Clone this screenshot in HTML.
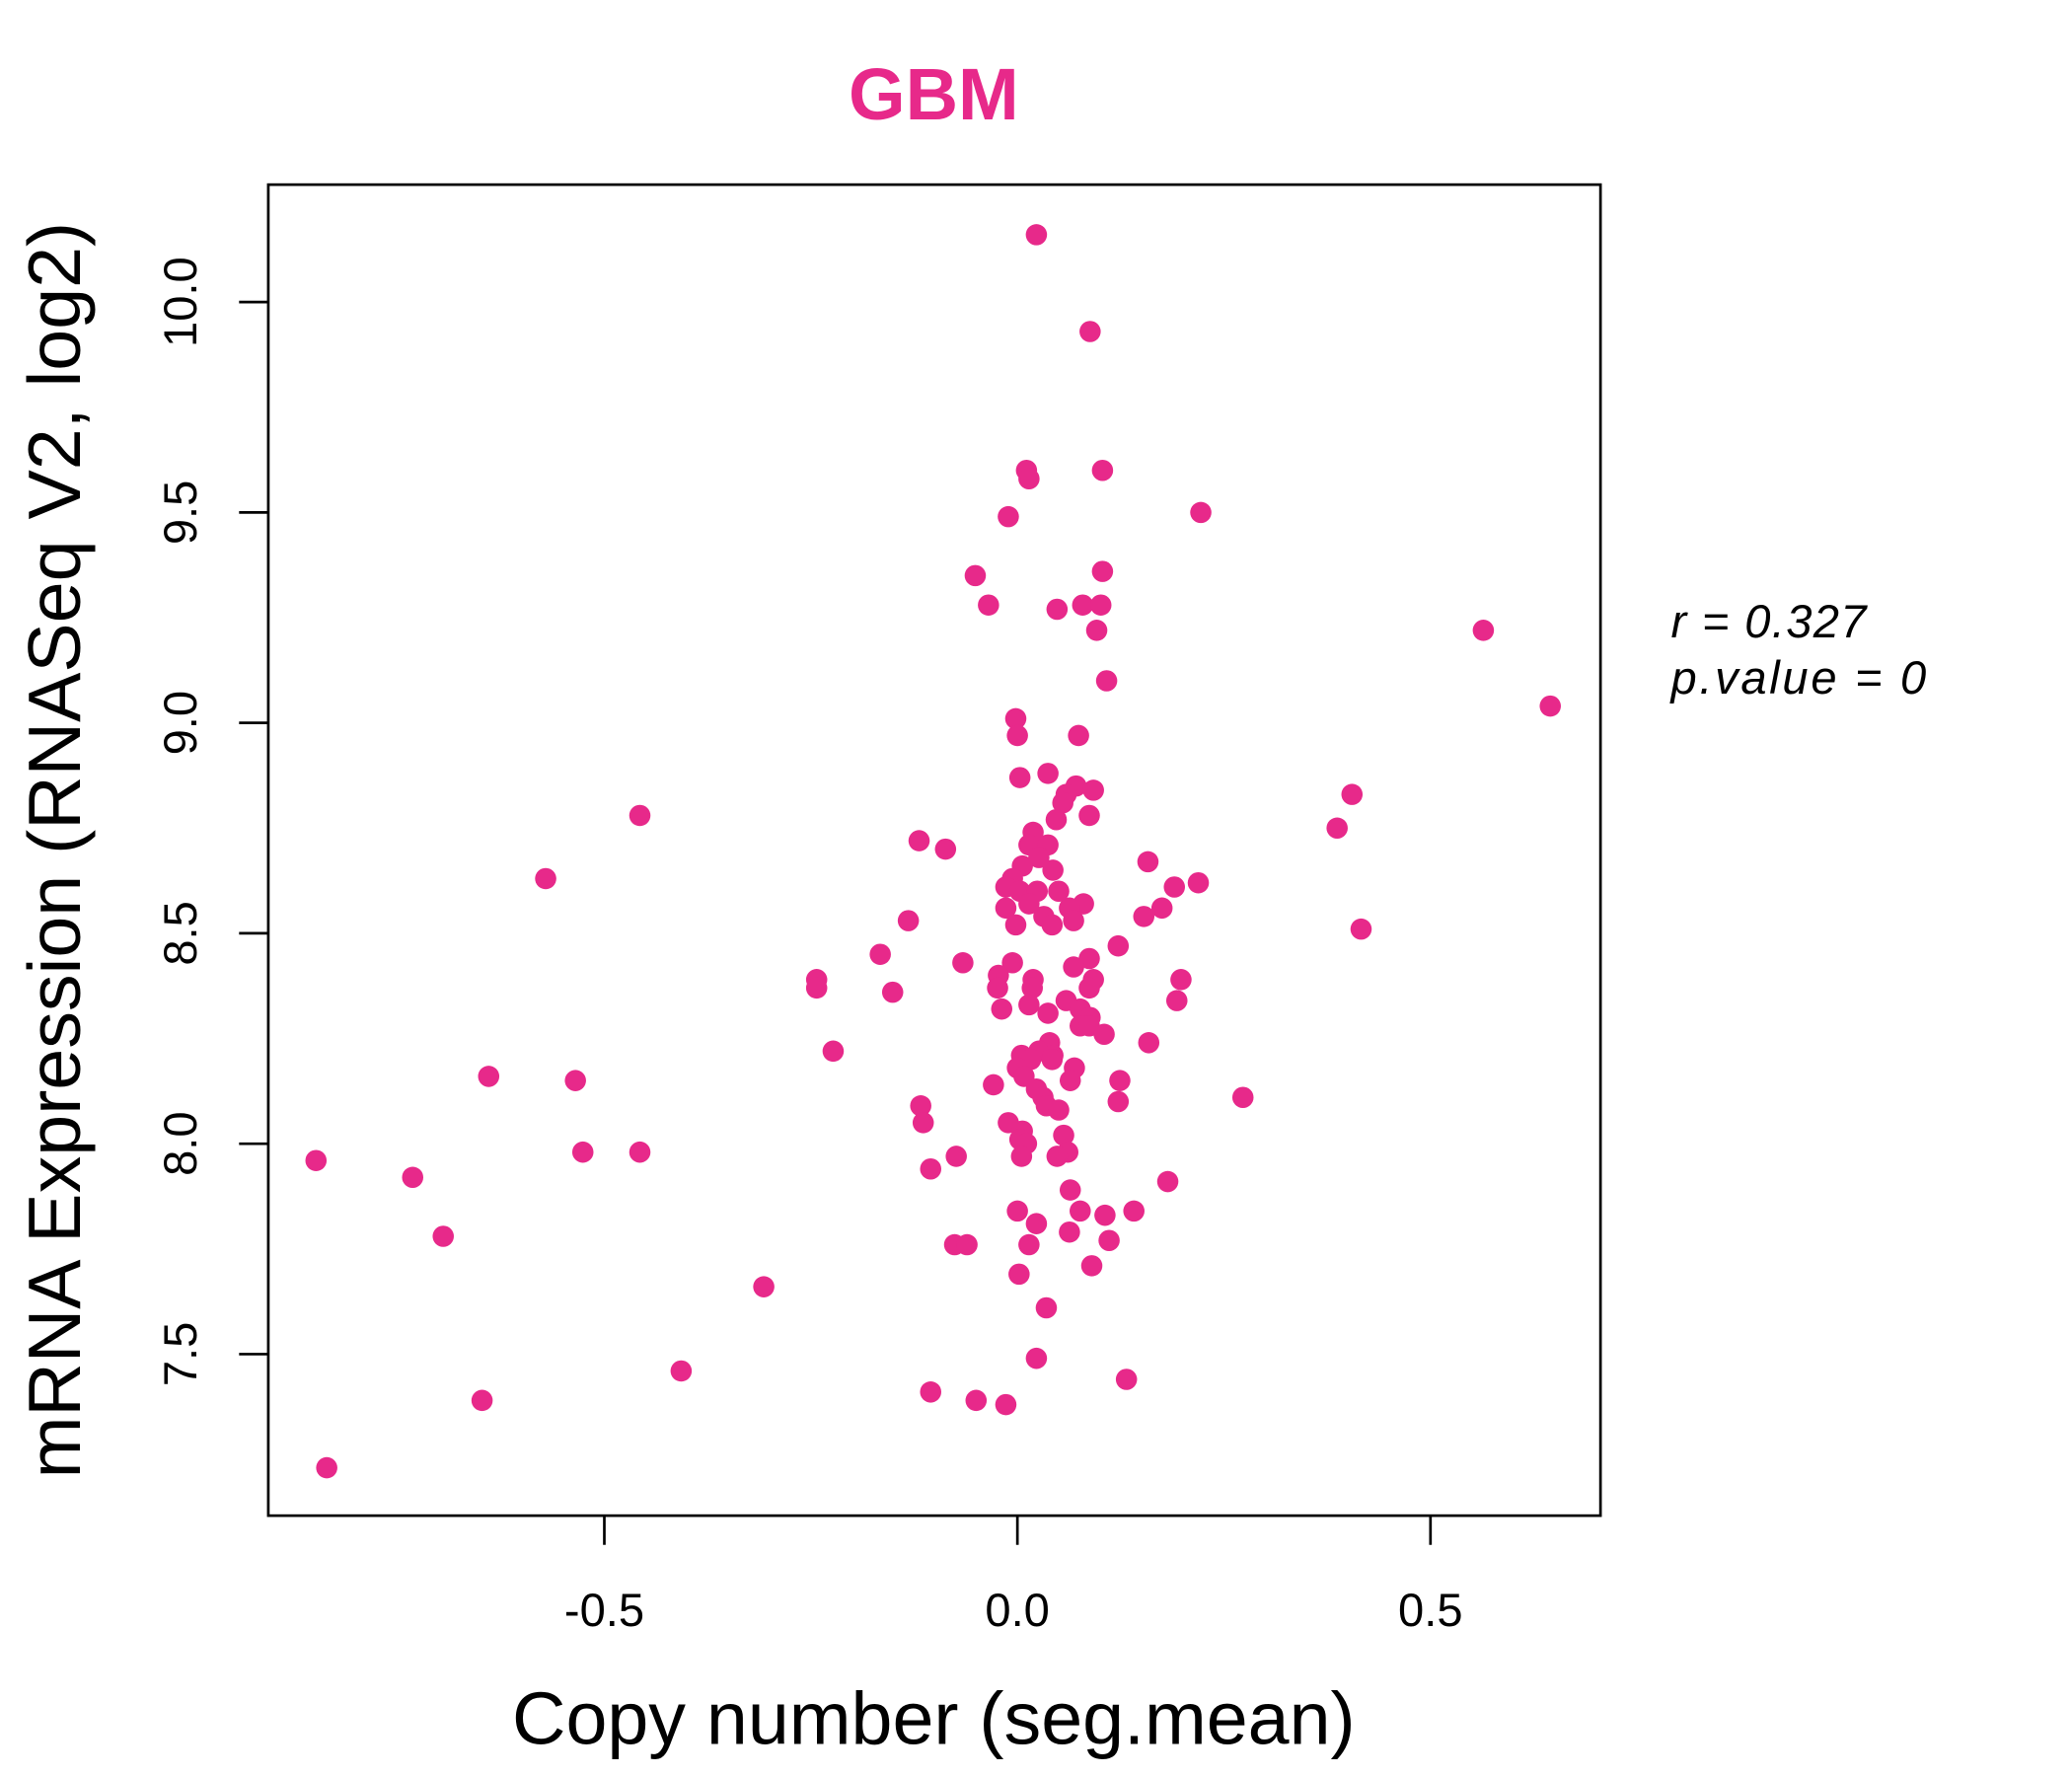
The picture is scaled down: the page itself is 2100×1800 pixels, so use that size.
<!DOCTYPE html>
<html><head><meta charset="utf-8"><style>
html,body{margin:0;padding:0;background:#fff;}
svg{display:block;}
text{font-family:"Liberation Sans",sans-serif;}
</style></head><body>
<svg id="chart" width="2100" height="1800" viewBox="0 0 1560 1337" preserveAspectRatio="none" xmlns="http://www.w3.org/2000/svg">
<rect width="1560" height="1337" fill="#fff"/>
<text x="703" y="90" text-anchor="middle" font-size="55" font-weight="bold" fill="#E7298A">GBM</text>
<rect x="202" y="139" width="1003" height="1002" fill="none" stroke="#000" stroke-width="2"/>
<g id="xaxis"></g>
<g id="yaxis"></g>
<g id="points"></g>
<text x="703" y="1313" text-anchor="middle" font-size="56">Copy number (seg.mean)</text>
<text transform="translate(60,640) rotate(-90)" text-anchor="middle" font-size="56">mRNA Expression (RNASeq V2, log2)</text>
<text x="1258" y="480" font-size="35" font-style="italic" letter-spacing="1">r = 0.327</text>
<text x="1258" y="522" font-size="35" font-style="italic" letter-spacing="2">p.value = 0</text>
</svg>
<script>
const xTicks=[-0.5,0.0,0.5];
const xTickLabels=["-0.5","0.0","0.5"];
const yTicks=[7.5,8.0,8.5,9.0,9.5,10.0];
const yTickLabels=["7.5","8.0","8.5","9.0","9.5","10.0"];
const xVals=[0.023,0.088,0.011,0.014,0.103,0.222,-0.011,-0.051,0.103,-0.035,0.048,0.079,0.101,0.096,0.564,0.108,0.645,-0.002,0.0,0.074,0.003,0.037,0.071,0.059,0.092,0.055,0.405,-0.457,0.087,0.387,0.047,0.019,-0.119,-0.087,0.014,0.037,0.026,0.006,0.043,0.158,-0.571,-0.006,-0.014,0.003,0.219,0.190,0.024,0.050,0.014,0.080,-0.014,0.175,0.063,0.153,0.032,0.068,-0.132,0.042,-0.002,0.416,0.122,-0.166,0.087,-0.066,-0.006,0.068,-0.023,0.019,0.198,-0.243,0.092,-0.243,-0.024,0.018,0.087,-0.151,0.059,0.193,0.014,0.076,0.037,-0.019,0.088,0.076,0.087,0.105,0.159,-0.223,0.039,0.026,0.005,0.043,0.016,0.042,0.0,0.069,0.008,-0.64,0.124,-0.535,0.064,-0.029,0.023,0.031,0.273,-0.117,0.122,0.035,0.050,-0.114,-0.011,0.006,0.056,0.003,0.011,-0.849,-0.526,-0.457,0.061,-0.074,0.005,0.048,-0.105,-0.732,0.182,0.064,0.0,0.076,0.141,0.106,0.023,0.063,-0.695,0.111,-0.076,-0.061,0.014,0.090,0.002,-0.307,0.035,0.023,-0.407,0.132,-0.105,-0.648,-0.050,-0.014,-0.836];
const yVals=[10.16,9.93,9.60,9.58,9.60,9.50,9.49,9.35,9.36,9.28,9.27,9.28,9.28,9.22,9.22,9.10,9.04,9.01,8.97,8.97,8.87,8.88,8.85,8.83,8.84,8.81,8.83,8.78,8.78,8.75,8.77,8.74,8.72,8.70,8.71,8.71,8.68,8.66,8.65,8.67,8.63,8.63,8.61,8.60,8.62,8.61,8.60,8.60,8.57,8.57,8.56,8.56,8.56,8.54,8.54,8.53,8.53,8.52,8.52,8.51,8.47,8.45,8.44,8.43,8.43,8.42,8.40,8.39,8.39,8.39,8.39,8.37,8.37,8.37,8.37,8.36,8.34,8.34,8.33,8.32,8.31,8.32,8.30,8.28,8.28,8.26,8.24,8.22,8.24,8.22,8.21,8.21,8.20,8.20,8.18,8.18,8.16,8.16,8.15,8.15,8.15,8.14,8.13,8.11,8.11,8.09,8.10,8.09,8.08,8.05,8.05,8.03,8.02,8.01,8.00,7.96,7.98,7.98,7.98,7.97,7.97,7.97,7.94,7.92,7.91,7.89,7.84,7.84,7.84,7.83,7.81,7.79,7.78,7.77,7.76,7.76,7.76,7.71,7.69,7.66,7.61,7.49,7.46,7.44,7.41,7.39,7.39,7.38,7.23];
const NS="http://www.w3.org/2000/svg";
function sx(v){return 766+v*622;}
function sy(v){return 861-(v-8)*316.8;}
function mk(t,a){const e=document.createElementNS(NS,t);for(const k in a)e.setAttribute(k,a[k]);return e;}
const xa=document.getElementById('xaxis');
xTicks.forEach((t,i)=>{
  const l=mk('line',{x1:sx(t),x2:sx(t),y1:1141,y2:1163,stroke:'#000','stroke-width':2});
  
  
  xa.appendChild(l);
  const tx=mk('text',{x:sx(t),y:1224,'text-anchor':'middle','font-size':35});
  
  
  tx.textContent=xTickLabels[i];xa.appendChild(tx);
});
const ya=document.getElementById('yaxis');
yTicks.forEach((t,i)=>{
  const l=mk('line',{x1:180,x2:202,y1:sy(t),y2:sy(t),stroke:'#000','stroke-width':2});
  
  
  ya.appendChild(l);
  const tx=mk('text',{transform:`translate(148,${sy(t)}) rotate(-90)`,'text-anchor':'middle','font-size':35});
  
  
  tx.textContent=yTickLabels[i];ya.appendChild(tx);
});
const pg=document.getElementById('points');
xVals.forEach((x,i)=>{
  const c=mk('circle',{cx:sx(x),cy:sy(yVals[i]),r:8,fill:'#E7298A'});
  
  
  pg.appendChild(c);
});
</script>
</body></html>
